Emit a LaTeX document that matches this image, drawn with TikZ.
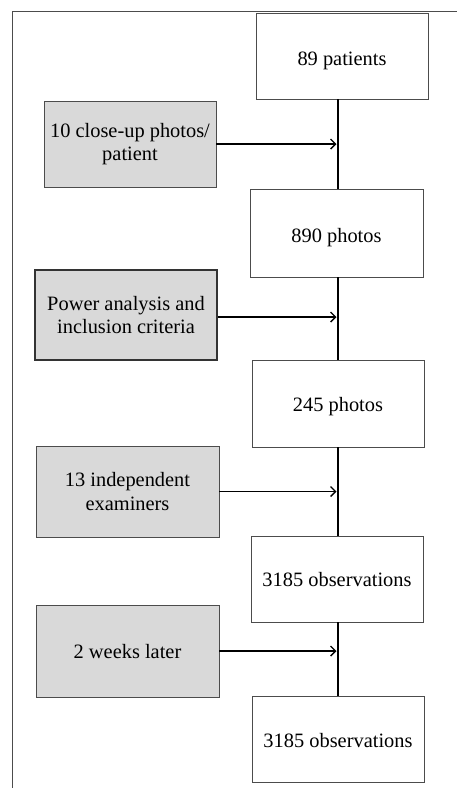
\documentclass[tikz,border=0pt]{standalone}
\usepackage{fontspec}
\setmainfont{Liberation Serif}
\usetikzlibrary{arrows.meta,shadows}
\newcommand{\basedown}[2]{\raisebox{-#1pt}[0pt][0pt]{#2}}
\begin{document}
\begin{tikzpicture}[x=1pt,y=-1pt,
  base/.style={draw=black!70, line width=0.8pt, align=center, inner sep=2pt,
    font=\fontsize{20.4}{23.5}\selectfont,
    drop shadow={shadow xshift=1.2pt, shadow yshift=-1.2pt, fill=black!35, opacity=0.6}},
  whitebox/.style={base, fill=white, minimum width=172pt, minimum height=86pt},
  greybox/.style={base, fill=black!15},
  link/.style={line width=1.1pt, black},
  arr/.style={line width=1.1pt, black, -{Straight Barb[length=5pt,width=10pt,line width=1.4pt]}, shorten >=1.5pt}]
\useasboundingbox (0,0) rectangle (457,788);
\fill[white] (0,0) rectangle (457,788);
\draw[black!70, line width=0.9pt] (12,788) -- (12,11) -- (457,11);
\coordinate (spine) at (338,0);
\node[whitebox] (b1) at (342,56) {\basedown{9}{89 patients}};
\node[whitebox, minimum width=173pt, minimum height=88pt] (b2) at (336.5,233) {\basedown{9}{890 photos}};
\node[whitebox, minimum height=87pt] (b3) at (338,403.5) {\basedown{8}{245 photos}};
\node[whitebox] (b4) at (337,579) {\basedown{7}{3185 observations}};
\node[whitebox] (b5) at (338,739) {\basedown{8.5}{3185 observations}};
\node[greybox, minimum width=172pt, minimum height=86pt] (g1) at (130,144) {10 close-up photos/\\patient};
\node[greybox, line width=1.8pt, draw=black!80, minimum width=182pt, minimum height=90pt] (g2) at (126,315) {Power analysis and\\inclusion criteria};
\node[greybox, minimum width=183pt, minimum height=91pt] (g3) at (127.5,491.5) {13 independent\\examiners};
\node[greybox, minimum width=183pt, minimum height=92pt] (g4) at (127.5,651) {\basedown{7}{2 weeks later}};
\draw[link] (b1.south -| spine) -- (b2.north -| spine);
\draw[link] (b2.south -| spine) -- (b3.north -| spine);
\draw[link] (b3.south -| spine) -- (b4.north -| spine);
\draw[link] (b4.south -| spine) -- (b5.north -| spine);
\draw[arr] (g1.east) -- (g1.east -| spine);
\draw[arr] (g2.east |- 0,317) -- (spine |- 0,317);
\draw[arr] (g3.east) -- (g3.east -| spine);
\draw[arr] (g4.east) -- (g4.east -| spine);
\end{tikzpicture}
\end{document}
